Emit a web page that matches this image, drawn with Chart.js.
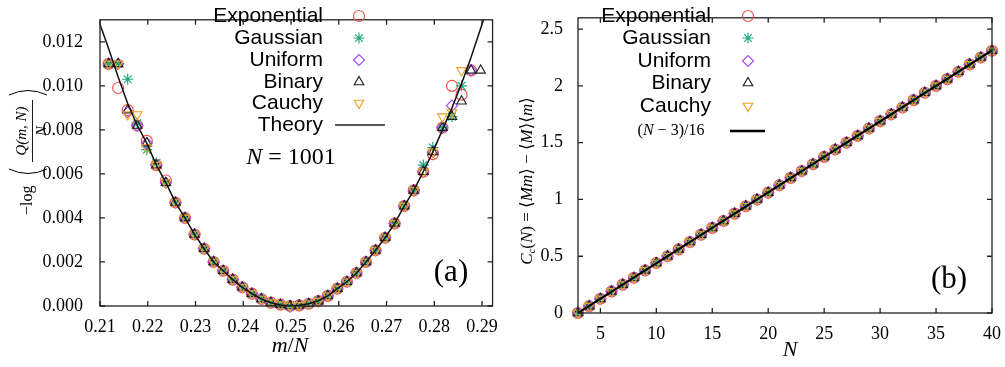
<!DOCTYPE html>
<html>
<head>
<meta charset="utf-8">
<script src="https://cdn.jsdelivr.net/npm/chart.js@4.4.0/dist/chart.umd.min.js"></script>
<style>
  html, body { margin: 0; padding: 0; background: #fff; }
  #wrap { position: relative; width: 1005px; height: 367px; }
  .panel { position: absolute; top: 0; height: 367px; }
</style>
</head>
<body>
<div id="wrap">
  <div class="panel" style="left:0;width:500px"><canvas id="chartA"></canvas></div>
  <div class="panel" style="left:500px;width:505px"><canvas id="chartB"></canvas></div>
</div>
<script>
// ---- panel (a): -log(Q(m,N))/N against m/N, N = 1001 ----
const xA = [0.2118, 0.2138, 0.2158, 0.2178, 0.2198, 0.2218, 0.2238, 0.2258, 0.2278, 0.2298,
            0.2318, 0.2338, 0.2358, 0.2378, 0.2398, 0.2418, 0.2438, 0.2458, 0.2478, 0.2498,
            0.2517, 0.2537, 0.2557, 0.2577, 0.2597, 0.2617, 0.2637, 0.2657, 0.2677, 0.2697,
            0.2717, 0.2737, 0.2757, 0.2777, 0.2797, 0.2817, 0.2837, 0.2857, 0.2877, 0.2897];

const expA = [0.0110, 0.0099, 0.0089, 0.0082, 0.0075, 0.0064, 0.0057, 0.0047, 0.0040, 0.00325,
              0.0026, 0.0020, 0.0016, 0.0012, 0.00085, 0.00056, 0.00032, 0.00015, 0.00006, 0.0,
              0.00003, 0.0001, 0.00022, 0.00046, 0.00079, 0.0011, 0.0015, 0.0020, 0.00253, 0.0031,
              0.00375, 0.00454, 0.00525, 0.0061, 0.0069, 0.0081, 0.0100, 0.0096, 0.0107, null];
const gaussA = [0.0110, 0.0110, 0.0103, 0.0083, 0.0071, 0.0065, 0.0056, 0.0047, 0.0040, 0.00325,
                0.0026, 0.0020, 0.0016, 0.0012, 0.00085, 0.00056, 0.00032, 0.00015, 0.00006, 0.0,
                0.00003, 0.0001, 0.00022, 0.00046, 0.00079, 0.0011, 0.0015, 0.0020, 0.00253, 0.0031,
                0.00375, 0.00454, 0.00525, 0.0064, 0.0072, 0.0081, 0.0086, 0.0100, null, null];
const unifA = [0.0110, 0.0110, 0.0088, 0.0082, 0.0074, 0.0064, 0.0056, 0.0047, 0.0040, 0.00325,
               0.0026, 0.0020, 0.0016, 0.0012, 0.00085, 0.00056, 0.00032, 0.00015, 0.00006, -0.00003,
               0.00003, 0.0001, 0.00022, 0.00046, 0.00079, 0.0011, 0.0015, 0.0020, 0.00253, 0.0031,
               0.00375, 0.00454, 0.00525, 0.0061, 0.0070, 0.0081, 0.0091, null, 0.0107, null];
const binA = [0.0110, 0.0110, 0.0089, 0.0082, 0.0074, 0.0064, 0.0056, 0.0047, 0.0040, 0.00325,
              0.0026, 0.0020, 0.0016, 0.0012, 0.00085, 0.00056, 0.00032, 0.00015, 0.00006, 0.0,
              0.00003, 0.0001, 0.00022, 0.00046, 0.00079, 0.0011, 0.0015, 0.0020, 0.00253, 0.0031,
              0.00375, 0.00454, 0.00525, 0.0061, 0.0070, 0.0081, 0.0086, 0.0093, 0.0107, 0.0107];
const cauchyA = [0.0110, 0.0110, 0.0087, 0.0087, 0.0072, 0.0064, 0.0056, 0.0047, 0.0040, 0.00325,
                 0.0026, 0.0020, 0.0016, 0.0012, 0.00085, 0.00056, 0.00032, 0.00015, 0.00006, 0.0,
                 0.00003, 0.0001, 0.00022, 0.00046, 0.00079, 0.0011, 0.0015, 0.0020, 0.00253, 0.0031,
                 0.00375, 0.00454, 0.00525, 0.0061, 0.0070, 0.0086, 0.0088, 0.0107, null, null];

const theoryAX = [0.2100, 0.2118, 0.2138, 0.2158, 0.2178, 0.2198, 0.2218, 0.2238, 0.2258, 0.2278,
                  0.2298, 0.2318, 0.2338, 0.2358, 0.2378, 0.2398, 0.2418, 0.2438, 0.2458, 0.2478,
                  0.2498, 0.2517, 0.2537, 0.2557, 0.2577, 0.2597, 0.2617, 0.2637, 0.2657, 0.2677,
                  0.2697, 0.2717, 0.2737, 0.2757, 0.2777, 0.2797, 0.2817, 0.2837, 0.2857, 0.2877,
                  0.2897, 0.2903];
const theoryAY = [0.0128, 0.0117, 0.0104, 0.0092, 0.0082, 0.0074, 0.0064, 0.0056, 0.0047, 0.0040,
                  0.00325, 0.0026, 0.0020, 0.0016, 0.0012, 0.00085, 0.00056, 0.00032, 0.00015, 0.00005,
                  0.0, 0.00003, 0.0001, 0.00024, 0.00046, 0.00079, 0.0011, 0.0015, 0.0020, 0.00253,
                  0.0031, 0.00375, 0.00454, 0.00525, 0.0061, 0.0070, 0.0080, 0.0090, 0.0101, 0.0113,
                  0.0126, 0.0130];

const xTicksA = [0.21, 0.22, 0.23, 0.24, 0.25, 0.26, 0.27, 0.28, 0.29];
const yTicksA = [0.000, 0.002, 0.004, 0.006, 0.008, 0.010, 0.012];

// ---- panel (b): C_c(N) against N ----
const nB = [3, 4, 5, 6, 7, 8, 9, 10, 11, 12, 13, 14, 15, 16, 17, 18, 19, 20, 21,
            22, 23, 24, 25, 26, 27, 28, 29, 30, 31, 32, 33, 34, 35, 36, 37, 38, 39, 40];
const ccB = [0, 0.06, 0.125, 0.19, 0.25, 0.31, 0.375, 0.44, 0.5, 0.56, 0.625, 0.69, 0.75, 0.81,
             0.875, 0.94, 1.0, 1.06, 1.125, 1.19, 1.25, 1.31, 1.375, 1.44, 1.5, 1.56, 1.625, 1.69,
             1.75, 1.81, 1.875, 1.94, 2.0, 2.06, 2.125, 2.19, 2.25, 2.31];
const theoryBX = [3, 40];
const theoryBY = [0, 2.3125];

const xTicksB = [5, 10, 15, 20, 25, 30, 35, 40];
const yTicksB = [0, 0.5, 1, 1.5, 2, 2.5];

const seriesNames = ['Exponential', 'Gaussian', 'Uniform', 'Binary', 'Cauchy'];

// marker look, gnuplot-like
const markers = [
  { color: '#f24f4f', style: 'circle', rot: 0 },
  { color: '#1aa87c', style: 'star', rot: 0 },
  { color: '#a64bf4', style: 'rectRot', rot: 0 },
  { color: '#222222', style: 'triangle', rot: 0 },
  { color: '#eba322', style: 'triangle', rot: 180 }
];

const SERIF = '"Liberation Serif", "DejaVu Serif", serif';
const SANS = '"Liberation Sans", Arial, sans-serif';

Chart.defaults.font.family = SERIF;
Chart.defaults.color = '#000';

function pts(xs, ys) {
  return xs.map((x, i) => ({ x: x, y: ys[i] })).filter(p => p.y !== null);
}

function markerSet(name, i, data) {
  const m = markers[i];
  return {
    label: name,
    data: data,
    showLine: false,
    pointStyle: m.style,
    rotation: m.rot,
    pointRadius: 5.5,
    pointBorderWidth: 1.15,
    borderColor: m.color,
    backgroundColor: 'rgba(0,0,0,0)',
    clip: false,
    order: 10 - i
  };
}

// draws a string made of pieces with their own fonts, centred at u = 0
function drawPieces(ctx, pieces, size) {
  let total = 0;
  pieces.forEach(p => {
    ctx.font = (p.it ? 'italic ' : '') + (p.size || size) + 'px ' + SERIF;
    p.w = ctx.measureText(p.t).width;
    total += p.w;
  });
  let u = -total / 2;
  pieces.forEach(p => {
    ctx.font = (p.it ? 'italic ' : '') + (p.size || size) + 'px ' + SERIF;
    ctx.fillText(p.t, u, p.dy || 0);
    u += p.w;
  });
  return total;
}

function legendMarker(ctx, i, x, y) {
  const m = markers[i];
  ctx.save();
  ctx.strokeStyle = m.color;
  ctx.fillStyle = 'rgba(0,0,0,0)';
  ctx.lineWidth = 1.15;
  Chart.helpers.drawPoint(ctx, { pointStyle: m.style, rotation: m.rot, radius: 5.5, borderWidth: 1.15 }, x, y);
  ctx.restore();
}

// box with inward ticks on all four sides
function frame(chart, xTicks, yTicks) {
  const ctx = chart.ctx, a = chart.chartArea;
  const xs = chart.scales.x, ys = chart.scales.y;
  ctx.save();
  ctx.strokeStyle = '#222';
  ctx.lineWidth = 1.3;
  ctx.strokeRect(a.left, a.top, a.right - a.left, a.bottom - a.top);
  ctx.beginPath();
  xTicks.forEach(v => {
    const px = xs.getPixelForValue(v);
    ctx.moveTo(px, a.bottom); ctx.lineTo(px, a.bottom - 5);
    ctx.moveTo(px, a.top); ctx.lineTo(px, a.top + 5);
  });
  yTicks.forEach(v => {
    const py = ys.getPixelForValue(v);
    ctx.moveTo(a.left, py); ctx.lineTo(a.left + 5, py);
    ctx.moveTo(a.right, py); ctx.lineTo(a.right - 5, py);
  });
  ctx.stroke();
  ctx.restore();
}

// thin tall bracket, opening to the right when dir = 1
function paren(ctx, u, dir) {
  ctx.beginPath();
  ctx.moveTo(u, -21);
  ctx.quadraticCurveTo(u - dir * 9, -2, u, 17);
  ctx.stroke();
}

const textA = {
  id: 'textA',
  afterDraw(chart) {
    const ctx = chart.ctx;
    frame(chart, xTicksA, yTicksA);
    ctx.save();
    ctx.fillStyle = '#000';
    ctx.textBaseline = 'middle';

    // legend
    const rows = [16, 38, 60, 82, 103];
    ctx.textAlign = 'right';
    seriesNames.forEach((n, i) => {
      ctx.fillStyle = '#000';
      ctx.font = '21px ' + SANS;
      ctx.fillText(n, 323, rows[i]);
      legendMarker(ctx, i, 359, rows[i]);
    });
    ctx.fillStyle = '#000';
    ctx.font = '21px ' + SANS;
    ctx.fillText('Theory', 323, 125);
    ctx.strokeStyle = '#222';
    ctx.lineWidth = 1.5;
    ctx.beginPath(); ctx.moveTo(335, 125); ctx.lineTo(385, 125); ctx.stroke();

    // N = 1001 and (a)
    ctx.textAlign = 'left';
    ctx.save(); ctx.translate(291, 158);
    drawPieces(ctx, [{ t: 'N', it: true }, { t: ' = 1001' }], 24);
    ctx.restore();
    ctx.textAlign = 'center';
    ctx.font = '31px ' + SERIF;
    ctx.fillText('(a)', 451, 273);

    // x title
    ctx.textAlign = 'left';
    ctx.save(); ctx.translate(290, 346);
    drawPieces(ctx, [{ t: 'm', it: true }, { t: '/' }, { t: 'N', it: true }], 22);
    ctx.restore();

    // y title: -log( Q(m,N) / N ), rotated
    ctx.save();
    ctx.translate(30, 157);
    ctx.rotate(-Math.PI / 2);
    ctx.textAlign = 'left';
    ctx.font = '16px ' + SERIF;
    ctx.fillText('\u2212log', -58, -2);
    ctx.strokeStyle = '#000';
    ctx.lineWidth = 1;
    paren(ctx, -12, 1);
    paren(ctx, 62, -1);
    ctx.textAlign = 'center';
    ctx.font = 'italic 15px ' + SERIF;
    ctx.fillText('Q(m, N)', 26, -8);
    ctx.fillText('N', 26, 12);
    ctx.lineWidth = 0.9;
    ctx.beginPath(); ctx.moveTo(-5, 2.5); ctx.lineTo(57, 2.5); ctx.stroke();
    ctx.restore();

    ctx.restore();
  }
};

const textB = {
  id: 'textB',
  afterDraw(chart) {
    const ctx = chart.ctx;
    frame(chart, xTicksB, yTicksB);
    ctx.save();
    ctx.fillStyle = '#000';
    ctx.textBaseline = 'middle';

    const rows = [16, 38, 61, 83, 106];
    ctx.textAlign = 'right';
    seriesNames.forEach((n, i) => {
      ctx.fillStyle = '#000';
      ctx.font = '21px ' + SANS;
      ctx.fillText(n, 211, rows[i]);
      legendMarker(ctx, i, 248, rows[i]);
    });
    ctx.fillStyle = '#000';
    ctx.textAlign = 'left';
    ctx.save(); ctx.translate(171, 131);
    drawPieces(ctx, [{ t: '(' }, { t: 'N', it: true }, { t: ' \u2212 3)/16' }], 16);
    ctx.restore();
    ctx.strokeStyle = '#000';
    ctx.lineWidth = 2.5;
    ctx.beginPath(); ctx.moveTo(230, 131); ctx.lineTo(265, 131); ctx.stroke();

    ctx.textAlign = 'center';
    ctx.font = '31px ' + SERIF;
    ctx.fillText('(b)', 449, 280);

    ctx.textAlign = 'left';
    ctx.save(); ctx.translate(290, 350);
    drawPieces(ctx, [{ t: 'N', it: true }], 22);
    ctx.restore();

    // y title, rotated
    ctx.save();
    ctx.translate(28, 181);
    ctx.rotate(-Math.PI / 2);
    drawPieces(ctx, [
      { t: 'C', it: true }, { t: 'c', it: true, size: 11, dy: 4 }, { t: '(' }, { t: 'N', it: true },
      { t: ') = \u27e8' }, { t: 'Mm', it: true }, { t: '\u27e9 \u2212 \u27e8' }, { t: 'M', it: true },
      { t: '\u27e9\u27e8' }, { t: 'm', it: true }, { t: '\u27e9' }
    ], 17);
    ctx.restore();

    ctx.restore();
  }
};

function axes(xMin, xMax, yMin, yMax, xTicks, yTicks, xFmt, yFmt, yW, xH, xPad, yPad) {
  return {
    x: {
      type: 'linear', min: xMin, max: xMax,
      grid: { display: false }, border: { display: false },
      afterFit: s => { s.height = xH; },
      afterBuildTicks: s => { s.ticks = xTicks.map(v => ({ value: v })); },
      ticks: { padding: xPad, color: '#000', font: { size: 18 }, maxRotation: 0, autoSkip: false, callback: xFmt }
    },
    y: {
      type: 'linear', min: yMin, max: yMax,
      grid: { display: false }, border: { display: false },
      afterFit: s => { s.width = yW; },
      afterBuildTicks: s => { s.ticks = yTicks.map(v => ({ value: v })); },
      ticks: { padding: yPad, color: '#000', font: { size: 18 }, autoSkip: false, callback: yFmt }
    }
  };
}

const common = {
  responsive: true,
  maintainAspectRatio: false,
  animation: false,
  plugins: { legend: { display: false }, tooltip: { enabled: false } }
};

const setsA = [expA, gaussA, unifA, binA, cauchyA].map((ys, i) => markerSet(seriesNames[i], i, pts(xA, ys)));
setsA.push({
  label: 'Theory', data: pts(theoryAX, theoryAY), showLine: true, pointRadius: 0,
  borderColor: '#111', borderWidth: 1.5, order: 1
});

new Chart(document.getElementById('chartA'), {
  type: 'scatter',
  data: { datasets: setsA },
  options: Object.assign({}, common, {
    layout: { padding: { top: 3, right: 7, left: 0, bottom: 0 } },
    scales: axes(0.21, 0.2922, 0, 0.013, xTicksA, yTicksA,
      v => v.toFixed(2), v => v.toFixed(3), 100, 61, 2, 9)
  }),
  plugins: [textA]
});

const setsB = seriesNames.map((n, i) => markerSet(n, i, pts(nB, ccB)));
setsB.push({
  label: '(N-3)/16', data: pts(theoryBX, theoryBY), showLine: true, pointRadius: 0,
  borderColor: '#000', borderWidth: 2, order: 1
});

new Chart(document.getElementById('chartB'), {
  type: 'scatter',
  data: { datasets: setsB },
  options: Object.assign({}, common, {
    layout: { padding: { top: 3, right: 13, left: 0, bottom: 0 } },
    scales: axes(3, 40, 0, 2.6, xTicksB, yTicksB,
      v => String(v), v => String(v), 78, 54, 2, 7)
  }),
  plugins: [textB]
});
</script>
</body>
</html>
